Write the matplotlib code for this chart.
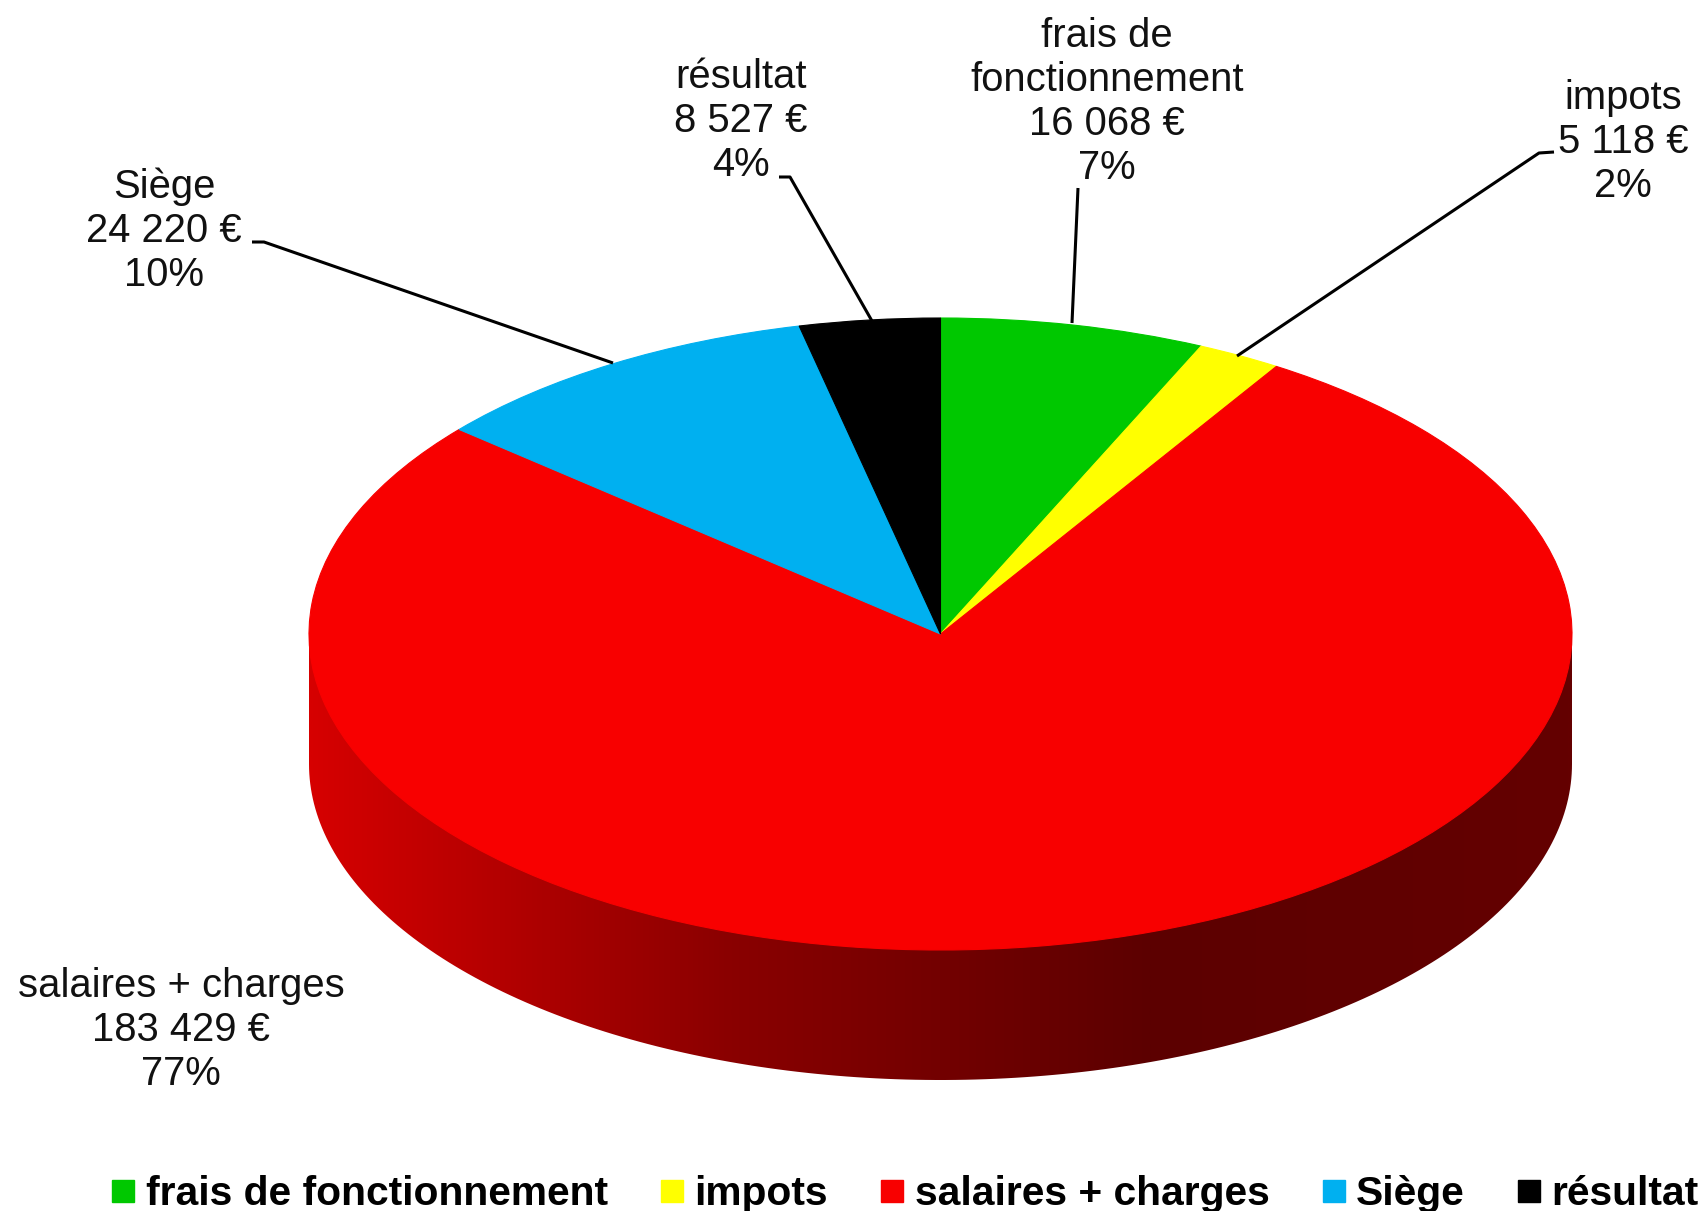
import numpy as np
import matplotlib
matplotlib.use("Agg")
import matplotlib.pyplot as plt
from matplotlib.patches import Polygon
from matplotlib.lines import Line2D
from matplotlib.colors import LinearSegmentedColormap

plt.rcParams['font.family'] = ['Liberation Sans', 'DejaVu Sans']

# ---- data ----
categories = ["frais de fonctionnement", "impots", "salaires + charges", "Siège", "résultat"]
label_names = ["frais de\nfonctionnement", "impots", "salaires + charges", "Siège", "résultat"]
values = [16068, 5118, 183429, 24220, 8527]
colors = ["#00c800", "#ffff00", "#f80000", "#00b0f0", "#000000"]

W, H = 1702, 1211
cx, cy, rx, ry, depth = 940.5, 634, 631.5, 316, 130
d = depth / ry

fig = plt.figure(figsize=(W / 100, H / 100), dpi=100)
ax = fig.add_axes([0, 0, 1, 1])

# side wall (front half) with horizontal gradient
t = np.radians(np.linspace(90, 270, 200))
pts = [(1, 0)] + list(zip(np.sin(t), np.cos(t) - d)) + [(-1, 0)]
side = Polygon(pts, closed=True, facecolor='none', edgecolor='none')
ax.add_patch(side)
cmap = LinearSegmentedColormap.from_list("wall", ["#d60000", "#8a0000", "#5c0000", "#640000"])
grad = np.linspace(0, 1, 512).reshape(1, -1)
im = ax.imshow(grad, cmap=cmap, extent=(-1, 1, -1 - d, 0), aspect='auto', zorder=1,
               interpolation='bilinear')
im.set_clip_path(side)

wedges, _ = ax.pie(values, colors=colors, startangle=90, counterclock=False,
                   radius=1, center=(0, 0))
for w in wedges:
    w.set_edgecolor(w.get_facecolor())
    w.set_linewidth(0.8)
    w.set_zorder(2)

ax.set_aspect('auto')
ax.set_xlim(-cx / rx, (W - cx) / rx)
ax.set_ylim((cy - H) / ry, cy / ry)
ax.axis('off')

# overlay in pixel coordinates for labels
lab = fig.add_axes([0, 0, 1, 1])
lab.set_xlim(0, W)
lab.set_ylim(H, 0)
lab.axis('off')
lab.patch.set_alpha(0)

total = sum(values)
texts = [f"{n}\n{v:,} €\n{round(v / total * 100)}%".replace(",", " ")
         for n, v in zip(label_names, values)]

# label positions (center x, top y) in pixels
label_pos = [(1107, 17), (1623, 79), (181, 967), (164, 167), (741, 58)]
for txt, (x, y) in zip(texts, label_pos):
    lab.text(x, y, txt, ha='center', va='top', fontsize=28.8, linespacing=1.2,
             color='#111111')

leaders = [
    [(1078, 188), (1072, 323)],
    [(1554, 152), (1539, 153), (1237, 356)],
    [(252, 242), (264, 242), (613, 363)],
    [(779, 177), (790, 177), (872, 321)],
]
for seg in leaders:
    xs, ys = zip(*seg)
    lab.plot(xs, ys, color='black', lw=2.2, solid_capstyle='butt')

handles = [Line2D([], [], ls='none', marker='s', markersize=16, color=c) for c in colors]
fig.legend(handles, categories, loc='center', bbox_to_anchor=(905 / W, 1 - 1194 / H),
           ncol=5, frameon=False, prop=dict(weight='bold', size=29.3),
           handlelength=0.6, handletextpad=0.25, columnspacing=1.28,
           borderaxespad=0, borderpad=0)

fig.savefig("out.png", dpi=100)
